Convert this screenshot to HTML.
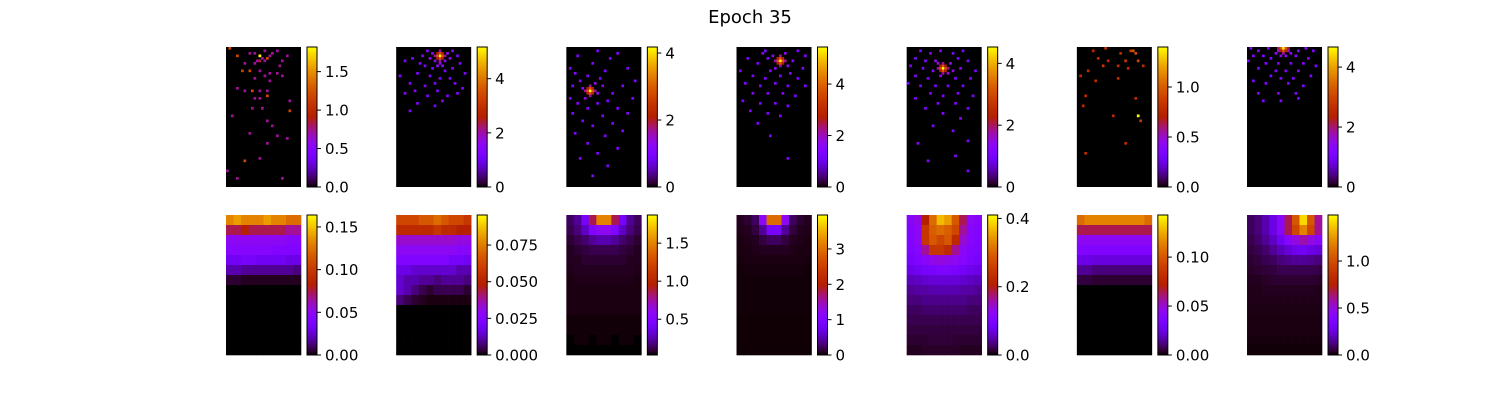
<!DOCTYPE html>
<html><head><meta charset="utf-8"><style>
html,body{margin:0;padding:0;background:#fff}
svg{display:block;font-family:"DejaVu Sans","Liberation Sans",sans-serif}
</style></head><body>
<svg id="fig" width="1500" height="400" viewBox="0 0 1500 400" xmlns="http://www.w3.org/2000/svg">
<rect width="1500" height="400" fill="#fff"/>
<text x="750" y="23" text-anchor="middle" font-size="18">Epoch 35</text>
<g id="panels"></g>
</svg>
<script>
// colorbar ranges
const topVmax = [1.82, 5.17, 4.18, 5.44, 4.53, 1.40, 4.67];
const topTicks = [[0,0.5,1,1.5],[0,2,4],[0,2,4],[0,2,4],[0,2,4],[0,0.5,1.0],[0,2,4]];
const topLabels = [["0.0","0.5","1.0","1.5"],["0","2","4"],["0","2","4"],["0","2","4"],["0","2","4"],["0.0","0.5","1.0"],["0","2","4"]];
const botVmin = [0, 0, 0.03, 0, 0, 0, 0];
const botVmax = [0.164, 0.0955, 1.87, 3.96, 0.41, 0.143, 1.49];
const botTicks = [[0,0.05,0.10,0.15],[0,0.025,0.05,0.075],[0.5,1.0,1.5],[0,1,2,3],[0,0.2,0.4],[0,0.05,0.10],[0,0.5,1.0]];
const botLabels = [["0.00","0.05","0.10","0.15"],["0.000","0.025","0.050","0.075"],["0.5","1.0","1.5"],["0","1","2","3"],["0.0","0.2","0.4"],["0.00","0.05","0.10"],["0.0","0.5","1.0"]];

// top-row sparse cells: [col,row,fraction] on a 30x56 grid
const top1 = [[1,0,.65],[4,3,.65],[9,2,.4],[11,2,.4],[13,3,1],[14,4,.4],[15,1,.4],[16,4,.65],[17,3,.4],[18,2,.4],[20,1,.4],[12,5,.4],[13,5,.45],[15,5,.4],[22,5,.4],[24,3,.4],[7,6,.4],[11,6,.4],[21,7,.4],[6,9,.65],[9,9,.65],[13,9,.4],[17,10,.4],[20,10,.4],[15,11,.4],[22,11,.4],[11,12,.4],[17,13,.4],[7,17,.4],[10,17,.65],[13,17,.4],[16,17,.4],[4,16,.4],[11,20,.4],[13,20,.4],[16,19,.65],[10,24,.4],[2,27,.4],[14,24,.4],[25,25,.65],[24,36,.4],[18,31,.4],[16,29,.4],[9,34,.4],[16,38,.4],[13,44,.4],[0,49,.4],[4,52,.4],[22,52,.4],[20,35,.4],[7,45,.65],[25,21,.4]];
const top2 = [[17,3,1],[16,3,.7],[18,3,.7],[17,2,.7],[17,4,.7],[16,2,.5],[18,2,.5],[16,4,.5],[18,4,.5],[15,3,.4],[19,3,.4],[17,1,.4],[17,5,.4],[14,2,.3],[20,2,.3],[15,5,.3],[19,5,.3],[17,6,.3],[16,7,.3],[18,7,.3],[13,4,.3],[21,4,.3],[12,1,.25],[22,1,.25],[10,3,.25],[24,3,.25],[9,6,.25],[11,7,.25],[14,8,.25],[19,9,.25],[22,8,.25],[25,6,.25],[6,4,.25],[3,5,.25],[8,10,.25],[13,11,.25],[17,12,.25],[21,12,.25],[27,10,.25],[1,11,.25],[5,14,.25],[11,15,.25],[15,14,.25],[23,14,.25],[7,17,.25],[16,17,.25],[26,16,.25],[3,18,.25],[12,19,.25],[20,19,.25],[24,18,.25],[8,22,.25],[18,21,.25],[5,25,.25],[15,23,.25]];
const top3 = [[9,17,1],[8,17,.7],[10,17,.7],[9,16,.7],[9,18,.7],[8,16,.5],[10,16,.5],[8,18,.5],[10,18,.5],[7,17,.4],[11,17,.4],[9,15,.4],[9,19,.4],[6,16,.3],[12,18,.3],[7,20,.3],[11,14,.3],[5,13,.25],[13,12,.25],[3,10,.25],[8,11,.25],[15,9,.25],[1,8,.25],[10,6,.25],[17,4,.25],[4,3,.25],[12,1,.25],[20,2,.25],[2,15,.25],[14,15,.25],[18,18,.25],[1,20,.25],[4,22,.25],[12,22,.25],[16,21,.25],[8,24,.25],[20,24,.25],[2,26,.25],[14,27,.25],[24,26,.25],[6,29,.25],[10,31,.25],[18,30,.25],[3,34,.25],[15,35,.25],[22,33,.25],[8,38,.25],[12,42,.25],[20,40,.25],[5,44,.25],[16,47,.25],[10,51,.25],[26,20,.25],[27,13,.25],[24,8,.25],[22,15,.25]];
const top4 = [[17,5,1],[16,5,.7],[18,5,.7],[17,4,.7],[17,6,.7],[16,4,.5],[18,4,.5],[16,6,.5],[18,6,.5],[15,5,.4],[19,5,.4],[17,3,.4],[17,7,.4],[14,3,.3],[20,7,.3],[15,8,.3],[19,2,.3],[12,4,.25],[22,5,.25],[10,2,.25],[24,1,.25],[8,6,.25],[13,9,.25],[21,10,.25],[26,8,.25],[4,4,.25],[1,9,.25],[6,11,.25],[11,12,.25],[17,11,.25],[24,12,.25],[3,14,.25],[9,15,.25],[15,14,.25],[20,15,.25],[27,15,.25],[6,18,.25],[12,18,.25],[18,18,.25],[23,19,.25],[2,21,.25],[9,22,.25],[15,22,.25],[20,23,.25],[5,25,.25],[12,26,.25],[17,27,.25],[8,30,.25],[13,35,.25],[20,44,.25],[11,1,.25],[27,3,.25]];
const top5 = [[14,8,1],[13,8,.7],[15,8,.7],[14,7,.7],[14,9,.7],[13,7,.5],[15,7,.5],[13,9,.5],[15,9,.5],[12,8,.4],[16,8,.4],[14,6,.4],[14,10,.4],[12,6,.35],[16,10,.35],[11,5,.3],[17,6,.3],[13,11,.3],[10,9,.3],[18,9,.3],[5,1,.25],[9,2,.25],[13,1,.25],[18,2,.25],[22,1,.25],[3,4,.25],[7,5,.25],[20,4,.25],[24,5,.25],[1,7,.25],[6,8,.25],[21,8,.25],[27,9,.25],[3,11,.25],[8,12,.25],[19,12,.25],[25,12,.25],[0,14,.25],[5,15,.25],[11,15,.25],[16,15,.25],[22,15,.25],[9,18,.25],[14,19,.25],[20,18,.25],[26,19,.25],[3,20,.25],[12,22,.25],[19,22,.25],[24,24,.25],[7,24,.25],[14,26,.25],[21,28,.25],[10,31,.25],[18,33,.25],[4,38,.25],[24,37,.25],[8,45,.25],[19,43,.25],[24,49,.25]];
const top6 = [[6,1,.55],[11,0,.55],[17,2,.55],[21,1,.6],[22,1,.7],[23,2,.65],[8,4,.55],[12,5,.55],[19,5,.6],[24,5,.65],[26,7,.55],[4,9,.55],[10,7,.6],[16,7,.55],[20,8,.55],[1,11,.55],[7,13,.55],[16,12,.55],[3,19,.55],[23,20,.55],[2,23,.55],[14,27,.55],[24,27,1],[25,29,.6],[19,38,.55],[3,42,.55]];
const top7 = [[14,0,1],[13,0,.7],[15,0,.7],[14,1,.7],[13,1,.5],[15,1,.5],[12,0,.45],[16,0,.45],[14,2,.4],[12,1,.35],[16,1,.35],[11,2,.3],[17,2,.3],[13,3,.3],[15,3,.3],[1,0,.25],[4,1,.25],[8,0,.25],[20,1,.25],[23,0,.25],[26,1,.25],[2,3,.25],[6,3,.25],[9,4,.25],[19,3,.25],[24,4,.25],[0,5,.25],[7,6,.25],[12,6,.25],[17,6,.25],[22,6,.25],[27,7,.25],[4,8,.25],[11,9,.25],[15,9,.25],[20,9,.25],[9,11,.25],[13,12,.25],[18,12,.25],[25,11,.25],[2,13,.25],[7,14,.25],[16,14,.25],[22,15,.25],[4,18,.25],[12,18,.25],[19,18,.25],[6,21,.25],[13,21,.25],[20,20,.25]];

// bottom-row smooth fields: 10 cols x 14 rows, fraction of colour range
const bot1 = [[.8,.85,.8,.8,.8,.85,.8,.8,.75,.75],[.45,.45,.5,.45,.45,.45,.45,.45,.4,.4],[.3,.3,.3,.3,.3,.3,.3,.3,.28,.28],[.27,.27,.27,.27,.27,.27,.26,.26,.25,.25],[.2,.2,.22,.22,.2,.2,.2,.2,.18,.18],[.12,.12,.1,.1,.1,.1,.1,.1,.1,.08],[.03,.03,.02,.02,.02,.02,.02,.02,.02,.02],[0,0,0,0,0,0,0,0,0,0],[0,0,0,0,0,0,0,0,0,0],[0,0,0,0,0,0,0,0,0,0],[0,0,0,0,0,0,0,0,0,0],[0,0,0,0,0,0,0,0,0,0],[0,0,0,0,0,0,0,0,0,0],[0,0,0,0,0,0,0,0,0,0]];
const bot2 = [[.65,.65,.65,.7,.7,.75,.7,.65,.65,.6],[.55,.55,.55,.55,.55,.6,.55,.55,.5,.5],[.35,.35,.35,.35,.35,.35,.35,.35,.33,.33],[.3,.3,.3,.3,.3,.3,.3,.3,.28,.28],[.25,.25,.25,.25,.25,.25,.25,.22,.22,.2],[.18,.18,.15,.15,.15,.15,.15,.15,.12,.12],[.15,.12,.12,.1,.1,.08,.1,.1,.1,.08],[.15,.12,.08,.05,.03,.05,.05,.05,.05,.03],[.08,.05,.03,.02,.01,.01,.01,.01,.01,.01],[0,0,0,0,0,0,0,0,0,0],[0,0,0,0,0,0,0,0,0,0],[0,0,0,0,0,0,0,0,0,0],[0,0,0,0,0,0,0,0,0,0],[0,0,0,0,0,0,0,0,0,0]];
const bot3 = [[.06,.1,.22,.45,.8,.8,.45,.22,.1,.06],[.05,.08,.14,.25,.3,.3,.25,.14,.08,.05],[.03,.05,.07,.1,.12,.12,.1,.07,.05,.03],[.02,.03,.04,.05,.05,.05,.05,.04,.03,.02],[.02,.02,.03,.03,.03,.03,.03,.03,.02,.02],[.015,.02,.02,.02,.02,.02,.02,.02,.02,.015],[.01,.015,.015,.015,.015,.015,.015,.015,.015,.01],[.01,.01,.01,.01,.01,.01,.01,.01,.01,.01],[.01,.01,.01,.01,.01,.01,.01,.01,.01,.01],[.01,.01,.01,.01,.01,.01,.01,.01,.01,.01],[.005,.005,.005,.005,.005,.005,.005,.005,.005,.005],[.005,.005,.005,.005,.005,.005,.005,.005,.005,.005],[0,.005,.005,0,.005,.005,0,.005,.005,0],[0,0,0,0,0,0,0,0,0,0]];
const bot4 = [[.02,.03,.06,.3,.75,.75,.3,.06,.03,.02],[.015,.02,.04,.1,.22,.22,.1,.04,.02,.015],[.01,.015,.02,.04,.06,.06,.04,.02,.015,.01],[.01,.01,.015,.02,.02,.02,.02,.015,.01,.01],[.008,.01,.01,.01,.01,.01,.01,.01,.01,.008],[.005,.008,.008,.008,.008,.008,.008,.008,.008,.005],[.005,.005,.005,.005,.005,.005,.005,.005,.005,.005],[.005,.005,.005,.005,.005,.005,.005,.005,.005,.005],[.005,.005,.005,.005,.005,.005,.005,.005,.005,.005],[.005,.005,.005,.005,.005,.005,.005,.005,.005,.005],[.004,.004,.004,.004,.004,.004,.004,.004,.004,.004],[.004,.004,.004,.004,.004,.004,.004,.004,.004,.004],[.004,.004,.004,.004,.004,.004,.004,.004,.004,.004],[.003,.003,.003,.003,.003,.003,.003,.003,.003,.003]];
const bot5 = [[.28,.32,.5,.75,.9,.85,.7,.45,.3,.28],[.26,.3,.6,.72,.75,.72,.65,.4,.28,.26],[.25,.3,.6,.7,.65,.7,.55,.35,.27,.25],[.24,.27,.4,.6,.6,.55,.4,.3,.26,.24],[.22,.25,.28,.32,.33,.32,.3,.27,.24,.22],[.18,.2,.22,.23,.24,.24,.23,.21,.19,.18],[.13,.14,.15,.16,.16,.16,.16,.15,.14,.13],[.1,.11,.11,.12,.12,.12,.12,.11,.11,.1],[.08,.08,.09,.09,.09,.09,.09,.09,.08,.08],[.06,.06,.07,.07,.07,.07,.07,.07,.06,.06],[.05,.05,.05,.05,.05,.05,.05,.05,.05,.05],[.04,.04,.04,.04,.04,.04,.04,.04,.04,.04],[.03,.03,.03,.035,.035,.035,.03,.03,.03,.03],[.02,.02,.025,.025,.025,.025,.025,.02,.02,.02]];
const bot6 = [[.75,.8,.8,.8,.8,.8,.8,.8,.8,.75],[.45,.45,.45,.45,.45,.45,.45,.45,.45,.45],[.3,.3,.3,.3,.3,.3,.3,.3,.3,.3],[.26,.26,.25,.25,.25,.25,.25,.25,.25,.25],[.18,.18,.17,.17,.17,.17,.17,.17,.17,.17],[.1,.1,.08,.08,.08,.08,.08,.08,.08,.08],[.04,.04,.03,.03,.03,.03,.03,.03,.03,.03],[0,0,0,0,0,0,0,0,0,0],[0,0,0,0,0,0,0,0,0,0],[0,0,0,0,0,0,0,0,0,0],[0,0,0,0,0,0,0,0,0,0],[0,0,0,0,0,0,0,0,0,0],[0,0,0,0,0,0,0,0,0,0],[0,0,0,0,0,0,0,0,0,0]];
const bot7 = [[.06,.08,.12,.18,.28,.45,.7,.95,.7,.4],[.06,.08,.12,.18,.28,.45,.65,.8,.65,.4],[.05,.07,.1,.14,.2,.27,.33,.38,.33,.28],[.04,.05,.07,.1,.13,.16,.19,.2,.18,.16],[.03,.04,.05,.06,.08,.09,.1,.1,.09,.08],[.025,.03,.035,.04,.05,.05,.05,.05,.05,.045],[.02,.02,.025,.03,.03,.03,.03,.03,.03,.025],[.015,.015,.02,.02,.02,.02,.02,.02,.02,.015],[.015,.015,.015,.015,.015,.015,.015,.015,.015,.015],[.012,.012,.012,.012,.012,.012,.012,.012,.012,.012],[.01,.01,.01,.01,.01,.01,.01,.01,.01,.01],[.01,.01,.01,.01,.01,.01,.01,.01,.01,.01],[.008,.008,.008,.008,.008,.008,.008,.008,.008,.008],[.005,.005,.005,.005,.005,.005,.005,.005,.005,.005]];

const topData = [top1, top2, top3, top4, top5, top6, top7];
const botData = [bot1, bot2, bot3, bot4, bot5, bot6, bot7];

const NS = "http://www.w3.org/2000/svg";
const root = document.getElementById("panels");
const colX = i => 226 + i * 170.17;
const W = 75, H = 140, ROWY = [47, 215];

function gnuplot(f) {
  f = Math.max(0, Math.min(1, f));
  const r = Math.sqrt(f), g = f * f * f, b = Math.max(0, Math.sin(2 * Math.PI * f));
  return `rgb(${Math.round(r*255)},${Math.round(g*255)},${Math.round(b*255)})`;
}
function mk(tag, attrs, parent) {
  const e = document.createElementNS(NS, tag);
  for (const k in attrs) e.setAttribute(k, attrs[k]);
  parent.appendChild(e);
  return e;
}

// shared gradient
const defs = mk("defs", {}, document.getElementById("fig"));
const grad = mk("linearGradient", {id: "cmap", x1: 0, y1: 1, x2: 0, y2: 0}, defs);
for (let s = 0; s <= 40; s++) mk("stop", {offset: s / 40, "stop-color": gnuplot(s / 40)}, grad);

function colorbar(g, x, y, vmin, vmax, ticks, labels) {
  const cb = mk("rect", {x: x, y: y, width: 10, height: H, fill: "url(#cmap)", stroke: "#000", "stroke-width": 1}, g);
  
  
  const sy = v => y + H - (v - vmin) / (vmax - vmin) * H;
  ticks.forEach((t, k) => {
    const ty = sy(t);
    mk("line", {x1: x + 10, x2: x + 14, y1: ty, y2: ty, stroke: "#000", "stroke-width": 1}, g);
    const tx = mk("text", {x: x + 18, y: ty + 5.5, "font-size": 15, fill: "#000"}, g);
    
    
    tx.textContent = labels[k];
  });
}

for (let i = 0; i < 7; i++) {
  const x0 = colX(i);
  const gt = mk("g", {}, root);
  
  
  mk("rect", {x: x0, y: ROWY[0], width: W, height: H, fill: "#000"}, gt);
  const cw = W / 30, ch = H / 56;
  topData[i].forEach(p => {
    const c = mk("rect", {x: x0 + p[0] * cw, y: ROWY[0] + p[1] * ch, width: cw + 0.2, height: ch + 0.2, fill: gnuplot(p[2])}, gt);
    
    
  });
  colorbar(gt, x0 + 81, ROWY[0], 0, topVmax[i], topTicks[i], topLabels[i]);

  const gb = mk("g", {}, root);
  
  
  const grid = botData[i];
  const bw = W / grid[0].length, bh = H / grid.length;
  grid.forEach((row, r) => row.forEach((v, c) => {
    const cell = mk("rect", {x: x0 + c * bw, y: ROWY[1] + r * bh, width: bw + 0.3, height: bh + 0.3, fill: gnuplot(v)}, gb);
    
    
  }));
  colorbar(gb, x0 + 81, ROWY[1], botVmin[i], botVmax[i], botTicks[i], botLabels[i]);
}
</script>
</body></html>
